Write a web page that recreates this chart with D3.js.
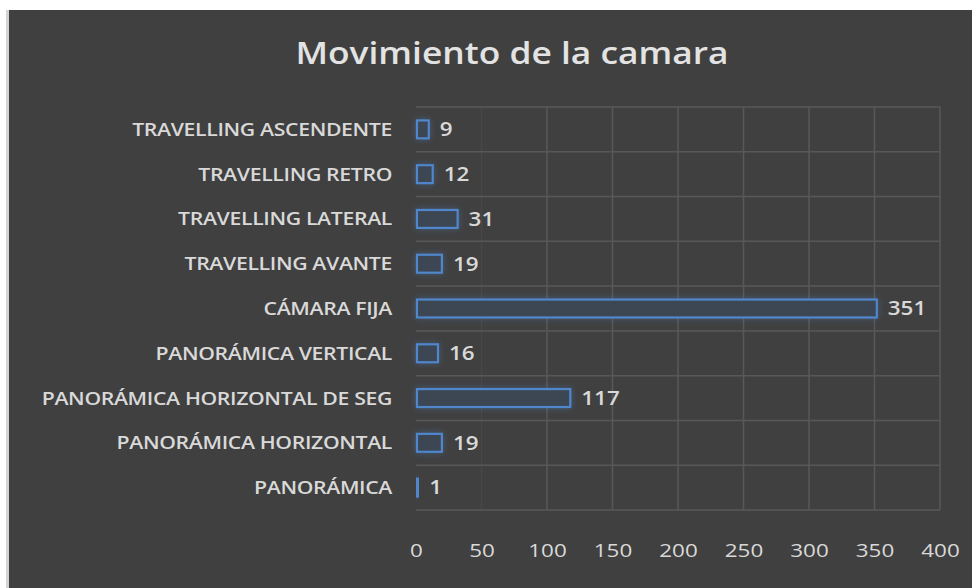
<!DOCTYPE html>
<html>
<head>
<meta charset="utf-8">
<script src="https://cdn.jsdelivr.net/npm/d3@7"></script>
<style>
  html, body { margin: 0; padding: 0; background: #fff; }
  svg { display: block; }
</style>
</head>
<body>
<svg id="chart" width="972" height="588"></svg>
<script>
// data, bottom to top as in the picture
const categories = [
    "PANORÁMICA",
    "PANORÁMICA HORIZONTAL",
    "PANORÁMICA HORIZONTAL DE SEG",
    "PANORÁMICA VERTICAL",
    "CÁMARA FIJA",
    "TRAVELLING AVANTE",
    "TRAVELLING LATERAL",
    "TRAVELLING RETRO",
    "TRAVELLING ASCENDENTE"
];
const values = [1, 19, 117, 16, 351, 19, 31, 12, 9];
const xTicks = [0, 50, 100, 150, 200, 250, 300, 350, 400];
const title = "Movimiento de la camara";

const svg = d3.select("#chart"),
    width = +svg.attr("width"),
    height = +svg.attr("height");

const margin = { top: 107, right: 32, bottom: 78, left: 416 };
// the source screenshot is a bit stretched sideways, so the text is too
const stretch = 1.18;

// frame: white edge with a light grey line, dark chart area
svg.append("rect")
    .attr("x", 6).attr("y", 10)
    .attr("width", 3).attr("height", height - 10)
    .attr("fill", "#d4d4d4");
svg.append("rect")
    .attr("x", 9).attr("y", 10)
    .attr("width", width - 9).attr("height", height - 10)
    .attr("fill", "#404040");

const defs = svg.append("defs");
const glow = defs.append("filter")
    .attr("id", "glow")
    .attr("x", "-50%").attr("y", "-80%")
    .attr("width", "200%").attr("height", "260%");
glow.append("feGaussianBlur")
    .attr("in", "SourceAlpha")
    .attr("stdDeviation", 3)
    .attr("result", "blur");
glow.append("feFlood").attr("flood-color", "#4a7fc1").attr("flood-opacity", 0.45);
glow.append("feComposite").attr("in2", "blur").attr("operator", "in").attr("result", "shadow");
const merge = glow.append("feMerge");
merge.append("feMergeNode").attr("in", "shadow");
merge.append("feMergeNode").attr("in", "SourceGraphic");

const x = d3.scaleLinear()
    .domain([0, 400])
    .range([margin.left, width - margin.right]);

const y = d3.scaleBand()
    .domain(categories.slice().reverse())
    .range([margin.top, height - margin.bottom])
    .paddingInner(0.6)
    .paddingOuter(0.3);

// full band for gridlines
const rows = d3.scaleBand()
    .domain(categories.slice().reverse())
    .range([margin.top, height - margin.bottom]);

const grid = svg.append("g")
    .attr("stroke", "#585858")
    .attr("stroke-width", 1.5);

grid.selectAll("line.v")
    .data(xTicks)
    .enter().append("line")
    .attr("class", "v")
    .attr("x1", d => x(d)).attr("x2", d => x(d))
    .attr("y1", margin.top).attr("y2", height - margin.bottom)
    .attr("stroke-opacity", d => d === 0 ? 0 : (d === 50 ? 0.35 : 1));

grid.selectAll("line.h")
    .data(categories.slice().reverse().map(c => rows(c)).concat([height - margin.bottom]))
    .enter().append("line")
    .attr("class", "h")
    .attr("x1", x(0)).attr("x2", x(400))
    .attr("y1", d => d).attr("y2", d => d);

// bars
svg.append("g")
    .selectAll("rect")
    .data(categories)
    .enter().append("rect")
    .attr("x", x(0) + 1)
    .attr("y", d => y(d))
    .attr("width", (d, i) => Math.max(1, x(values[i]) - x(0)))
    .attr("height", y.bandwidth())
    .attr("fill", "#3c4652")
    .attr("stroke", "#4f86cc")
    .attr("stroke-width", 2.2)
    .attr("filter", "url(#glow)");

// value labels
svg.append("g")
    .selectAll("text")
    .data(categories)
    .enter().append("text")
    .attr("transform", (d, i) =>
        `translate(${x(values[i]) + 12},${y(d) + y.bandwidth() / 2}) scale(${stretch},1)`)
    .attr("dy", "0.36em")
    .attr("fill", "#d9d9d9")
    .attr("font-family", "'Open Sans', sans-serif")
    .attr("font-size", 19)
    .attr("font-weight", 600)
    .text((d, i) => values[i]);

// category axis
const yAxis = svg.append("g")
    .attr("transform", `translate(${margin.left - 24},0)`)
    .call(d3.axisLeft(rows).tickSize(0).tickPadding(0));
yAxis.select(".domain").remove();
yAxis.selectAll("text")
    .attr("transform", `scale(${stretch},1)`)
    .attr("fill", "#d9d9d9")
    .attr("font-family", "'Open Sans', sans-serif")
    .attr("font-size", 18)
    .attr("font-weight", 600)
    .attr("dy", "0.36em")
    .attr("letter-spacing", "-0.3px");

// value axis
const xAxis = svg.append("g")
    .attr("transform", `translate(0,${height - margin.bottom + 27})`)
    .call(d3.axisBottom(x).tickValues(xTicks).tickSize(0).tickPadding(6));
xAxis.select(".domain").remove();
xAxis.selectAll("text")
    .attr("transform", `scale(${stretch},1)`)
    .attr("fill", "#d9d9d9")
    .attr("font-family", "'Open Sans', sans-serif")
    .attr("font-size", 19);

svg.append("text")
    .attr("transform", `translate(512,64) scale(1.14,1)`)
    .attr("text-anchor", "middle")
    .attr("fill", "#e3e3e3")
    .attr("font-family", "'Open Sans', sans-serif")
    .attr("font-size", 31)
    .attr("font-weight", 600)
    .text(title);
</script>
</body>
</html>
